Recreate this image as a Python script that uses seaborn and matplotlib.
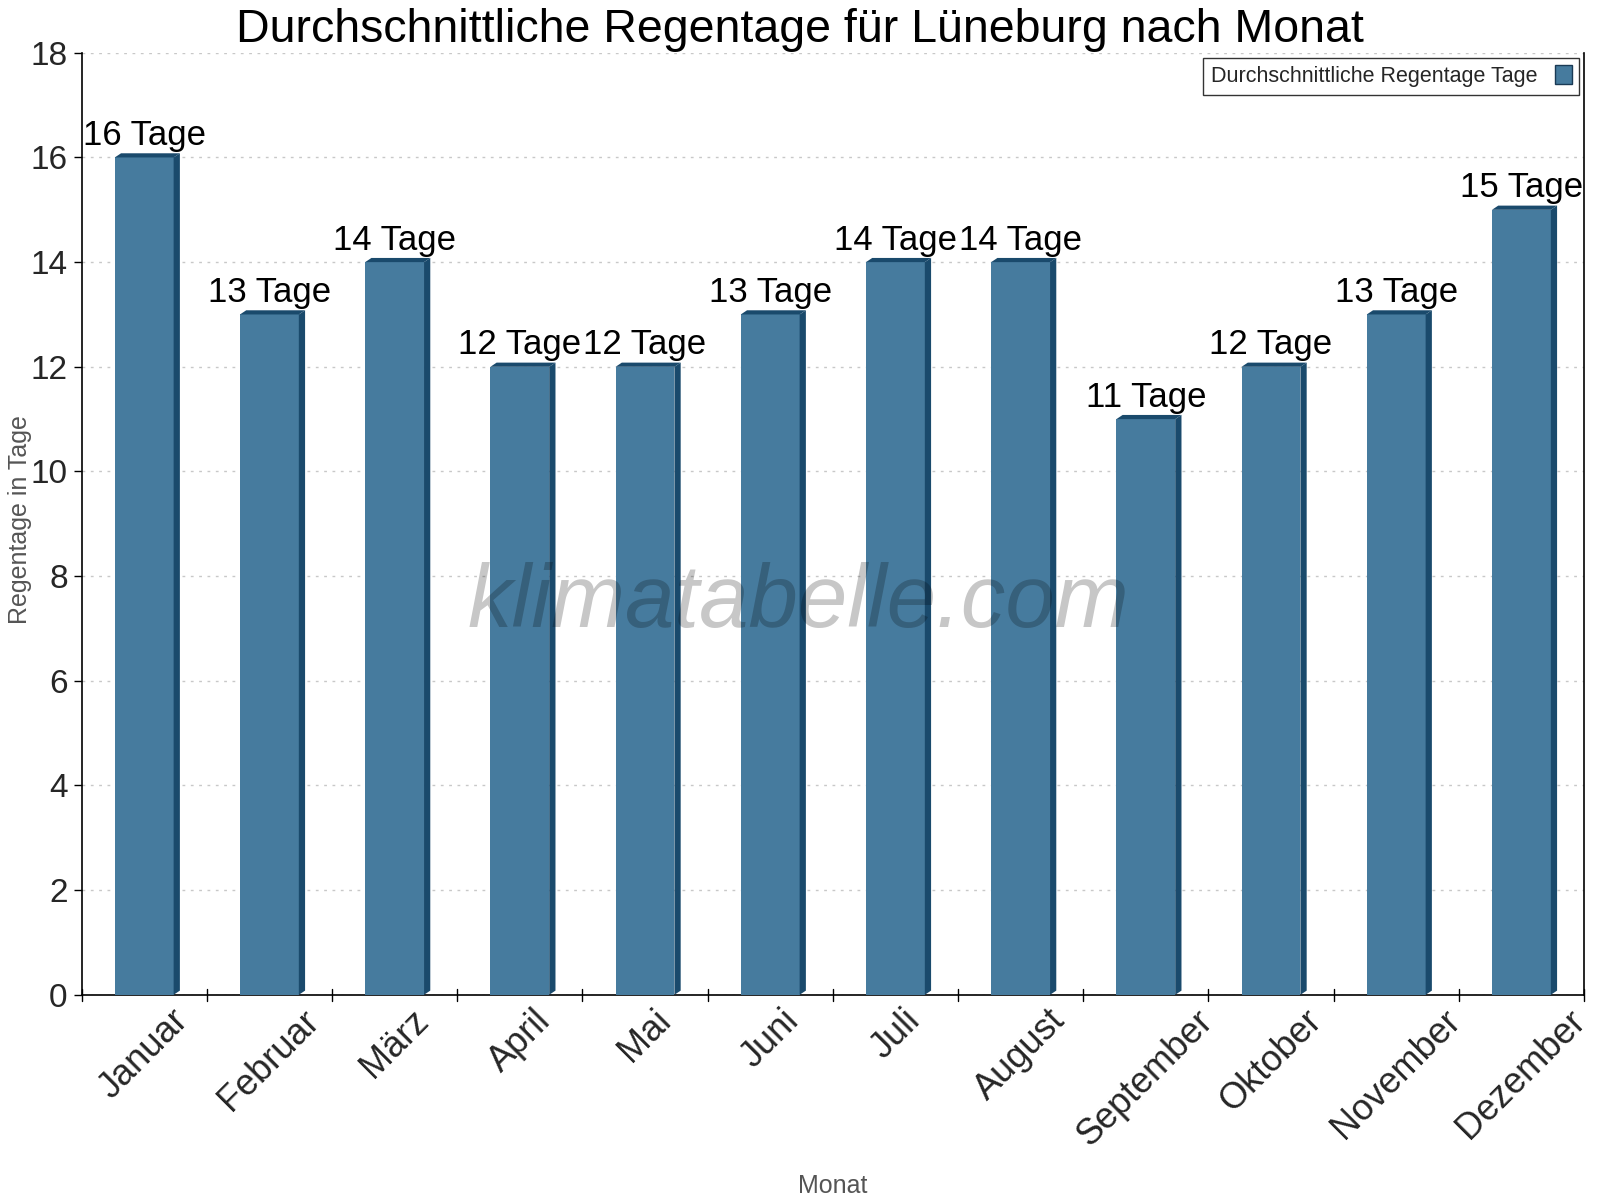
import matplotlib
matplotlib.use("Agg")
import matplotlib.pyplot as plt
import pandas as pd
import seaborn as sns
from matplotlib.patches import Polygon, Patch

months = ["Januar", "Februar", "März", "April", "Mai", "Juni", "Juli",
          "August", "September", "Oktober", "November", "Dezember"]
rain_days = [16, 13, 14, 12, 12, 13, 14, 14, 11, 12, 13, 15]
y_ticks = [0, 2, 4, 6, 8, 10, 12, 14, 16, 18]

front_color = "#467b9e"
dark_color = "#1a4a6c"

sns.set_theme(style="white")
plt.rcParams["font.family"] = ["Liberation Sans", "DejaVu Sans"]

df = pd.DataFrame({"Monat": months, "Tage": rain_days})

fig = plt.figure(figsize=(16, 12), dpi=100)
ax = fig.add_axes([0.051, 0.171, 0.939, 0.785])

sns.barplot(data=df, x="Monat", y="Tage", color=front_color, saturation=1,
            width=0.47, linewidth=0, ax=ax, zorder=3)

# fake 3D: side and top faces built from each bar's own geometry
dx, dy = 0.05, 0.08
for bar in ax.patches:
    x0, w, h = bar.get_x(), bar.get_width(), bar.get_height()
    x1 = x0 + w
    side = Polygon([(x1, 0), (x1 + dx, dy), (x1 + dx, h + dy), (x1, h)],
                   closed=True, facecolor=dark_color, edgecolor="none", zorder=3)
    top = Polygon([(x0, h), (x0 + dx, h + dy), (x1 + dx, h + dy), (x1, h)],
                  closed=True, facecolor=dark_color, edgecolor="none", zorder=3)
    ax.add_patch(side)
    ax.add_patch(top)
    ax.annotate(f"{int(h)} Tage", (x0 + w / 2, h), xytext=(0, 4),
                textcoords="offset points", ha="center", va="bottom",
                fontsize=25, color="black", zorder=5)

ax.set_xlim(-0.5, len(months) - 0.5)
ax.set_ylim(0, 18)
ax.set_yticks(y_ticks)
ax.set_yticklabels([str(t) for t in y_ticks], fontsize=24)
ax.set_xticks(range(len(months)))
ax.set_xticklabels(months, rotation=45, ha="center", fontsize=26)
ax.tick_params(axis="x", length=0, pad=6)
ax.tick_params(axis="y", left=True, length=6, width=1, color="black", pad=4)

# x ticks on category boundaries, crossing the axis line
for b in range(len(months) + 1):
    ax.plot([b - 0.5, b - 0.5], [-0.12, 0.12], color="black", lw=1,
            clip_on=False, zorder=4)

ax.grid(axis="y", linestyle=(0, (2, 4)), color="#c8c8c8", linewidth=1, zorder=0)
ax.set_axisbelow(True)
for side_name in ["left", "bottom", "right"]:
    ax.spines[side_name].set_visible(True)
    ax.spines[side_name].set_color("black")
    ax.spines[side_name].set_linewidth(1.2)
ax.spines["top"].set_visible(False)

ax.set_xlabel("Monat", fontsize=18, color="#555555")
ax.set_ylabel("Regentage in Tage", fontsize=18, color="#555555")
ax.xaxis.set_label_coords(0.5, -0.19)
ax.yaxis.set_label_coords(-0.033, 0.505)

fig.text(0.5, 0.993, "Durchschnittliche Regentage für Lüneburg nach Monat",
         fontsize=33.5, color="black", ha="center", va="top")

ax.text(0.477, 0.415, "klimatabelle.com", transform=ax.transAxes, ha="center",
        va="center", fontsize=64, style="italic", color="#000000", alpha=0.22,
        zorder=6)

handle = Patch(facecolor=front_color, edgecolor="#1a3a55", linewidth=1)
leg = ax.legend([handle], ["Durchschnittliche Regentage Tage"], loc="upper right",
                bbox_to_anchor=(0.997, 0.995), borderaxespad=0, markerfirst=False,
                fontsize=15.5, frameon=True, fancybox=False, handlelength=0.8,
                handleheight=1.0, borderpad=0.35, handletextpad=0.8)
leg.get_frame().set_edgecolor("black")
leg.get_frame().set_linewidth(1)

fig.savefig("out.png", dpi=100)
